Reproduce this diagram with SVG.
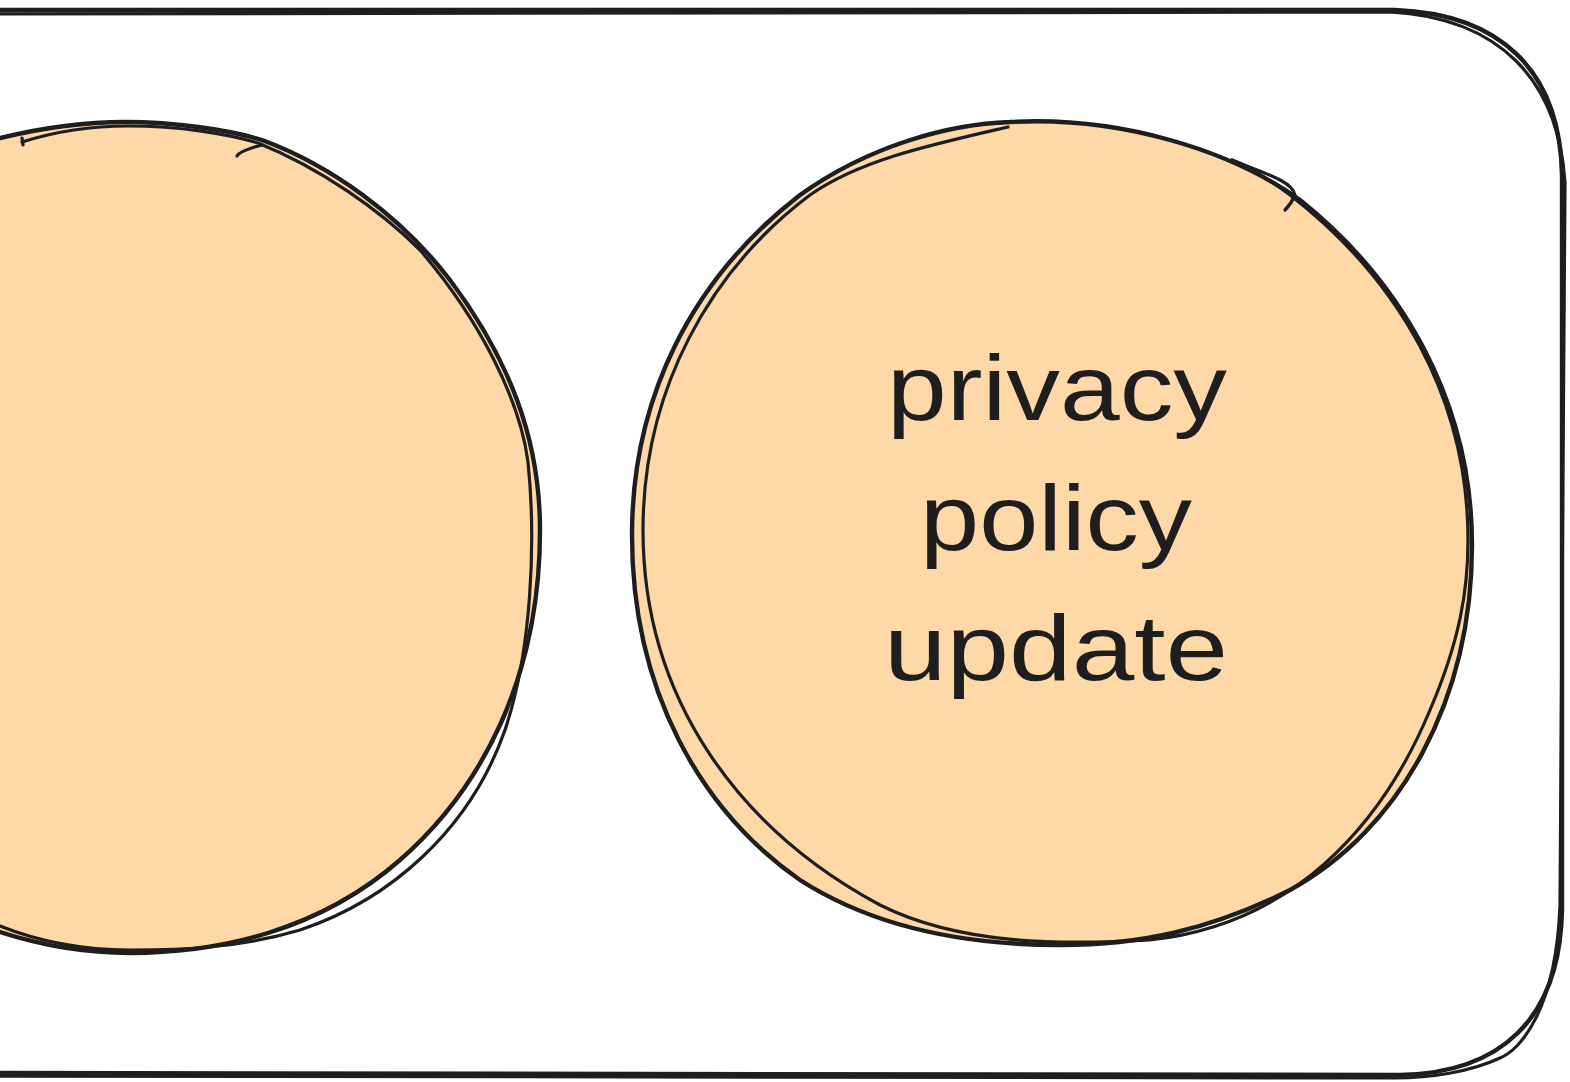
<svg xmlns="http://www.w3.org/2000/svg" width="1570" height="1082" viewBox="0 0 1570 1082">
  <style>
    .ink { fill: none; stroke: #1e1e1e; stroke-width: 4.4; stroke-linecap: round; stroke-linejoin: round; }
    .ink2 { fill: none; stroke: #1e1e1e; stroke-width: 3.2; stroke-linecap: round; stroke-linejoin: round; }
    .blob { fill: #ffd8a8; stroke: none; }
    .label { font-family: "Liberation Sans", "DejaVu Sans", sans-serif; font-size: 92px; fill: #1e1e1e; text-anchor: middle; }
  </style>
  <rect width="1570" height="1082" fill="#ffffff"/>

  <!-- frame: rounded rectangle running off the left edge -->
  <g id="frame">
    <path class="ink" d="M-20,10 L1395,10 C1500,14 1560,70 1562,175 L1562,910 C1560,1020 1500,1073 1400,1075 L-20,1073"/>
    <path class="ink2" d="M-20,14 L1390,12 C1500,18 1558,80 1565,182 L1560,905 C1556,1010 1520,1050 1500,1058 C1470,1072 1430,1078 1395,1078 L-20,1076"/>
  </g>

  <!-- left circle, partly outside the view -->
  <g id="circle-left">
    <path class="blob" d="M0,138 C50,126 90,122 125,122 C175,122 230,130 262,140 C330,165 400,215 450,280 C510,360 540,440 540,530 C540,680 480,790 400,860 C320,930 220,953 130,953 C80,953 40,945 0,932 L-10,932 L-10,138 Z"/>
    <path class="ink" d="M0,138 C50,126 90,122 125,122 C175,122 230,130 262,140 C330,165 400,215 450,280 C510,360 540,440 540,530 C540,680 480,790 400,860 C320,930 220,953 130,953 C80,953 40,945 0,932"/>
    <path class="ink2" d="M22,142 C60,130 95,126 128,126 C180,126 228,134 258,143 C320,168 380,210 420,250 C480,320 520,400 528,462 C536,540 532,650 505,730 C470,830 390,900 300,930 C240,948 180,950 130,950 C80,950 40,942 0,926"/>
    <path class="ink2" d="M22,138 L23,145"/>
    <path class="ink2" d="M262,145 C250,148 240,151 237,156"/>
  </g>

  <!-- right circle with its label -->
  <g id="circle-right">
    <path class="blob" d="M1010,122 C1120,116 1230,150 1300,200 C1400,280 1472,400 1472,545 C1472,700 1400,830 1290,890 C1210,930 1140,945 1060,945 C960,945 870,925 800,880 C700,810 632,690 632,535 C632,400 690,280 800,195 C870,145 950,124 1010,122 Z"/>
    <path class="ink" d="M1010,122 C1120,116 1230,150 1300,200 C1400,280 1472,400 1472,545 C1472,700 1400,830 1290,890 C1210,930 1140,945 1060,945 C960,945 870,925 800,880 C700,810 632,690 632,535 C632,400 690,280 800,195 C870,145 950,124 1010,122"/>
    <path class="ink2" d="M1008,127 C930,145 860,160 810,195 C710,270 643,390 643,530 C643,700 740,830 880,905 C960,945 1060,945 1150,940 C1290,925 1380,830 1430,710 C1460,640 1468,590 1468,540 C1468,400 1400,280 1290,195 C1270,180 1250,168 1232,160"/>
    <path class="ink2" d="M1232,160 C1260,172 1292,180 1295,195 C1292,202 1289,206 1285,210"/>
    <text class="label" x="1057" y="420" textLength="340" lengthAdjust="spacingAndGlyphs">privacy</text>
    <text class="label" x="1056" y="550" textLength="272" lengthAdjust="spacingAndGlyphs">policy</text>
    <text class="label" x="1056" y="680" textLength="344" lengthAdjust="spacingAndGlyphs">update</text>
  </g>
</svg>
